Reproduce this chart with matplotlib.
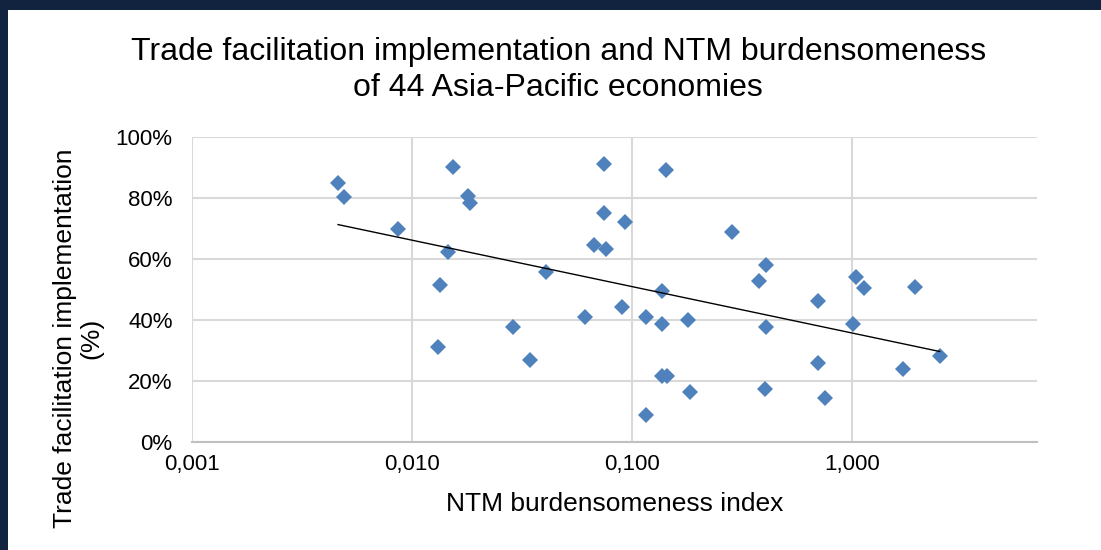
import numpy as np
import matplotlib
matplotlib.use("Agg")
import matplotlib.pyplot as plt
from matplotlib.patches import Rectangle
from matplotlib.ticker import FixedLocator, NullLocator, FuncFormatter

plt.rcParams['font.family'] = ['Liberation Sans', 'DejaVu Sans']

# NTM burdensomeness index (x) and trade facilitation implementation in % (y)
ntm_index = [0.00461, 0.00489, 0.00867, 0.01535, 0.01795, 0.01841, 0.01452,
             0.0134, 0.0131, 0.0289, 0.0343, 0.0408, 0.0745, 0.1429, 0.0745,
             0.0927, 0.2857, 0.0668, 0.0761, 0.4046, 0.3775, 1.036, 1.127,
             1.928, 0.1361, 0.7016, 0.0902, 0.0610, 0.1153, 0.1361, 0.1787,
             0.4046, 1.011, 2.50, 0.7016, 1.711, 0.1361, 0.1436, 0.1841,
             0.402, 0.755, 0.1153]
tf_impl = [84.8, 80.4, 69.8, 90.1, 80.6, 78.2, 62.3, 51.5, 31.1, 37.6, 26.9,
           55.8, 91.2, 89.1, 75.2, 72.0, 68.7, 64.5, 63.3, 58.1, 52.6, 53.9,
           50.5, 50.7, 49.5, 46.2, 44.1, 40.9, 40.9, 38.7, 39.9, 37.6, 38.7,
           28.0, 25.9, 23.8, 21.7, 21.7, 16.2, 17.4, 14.2, 8.9]

x_ticks = [0.001, 0.01, 0.1, 1]
x_tick_labels = ["0,001", "0,010", "0,100", "1,000"]
y_ticks = [0, 20, 40, 60, 80, 100]

x = np.array(ntm_index)
y = np.array(tf_impl)

# logarithmic trendline, like excel
a, b = np.polyfit(np.log(x), y, 1)
xt = np.array([x.min(), x.max()])
yt = a * np.log(xt) + b

fig = plt.figure(figsize=(11.01, 5.5), dpi=100)
fig.patch.set_facecolor('#12233F')
fig.add_artist(Rectangle((8 / 1101, 0), 1, 1 - 10 / 550, transform=fig.transFigure,
                         facecolor='white', edgecolor='none', zorder=0))

ax = fig.add_axes([0.1744, 0.1969, 0.7672, 0.554])
ax.set_facecolor('white')
ax.set_xscale('log')
ax.set_xlim(0.001, 6.9)
ax.set_ylim(0, 100)

ax.plot(x, y, linestyle='none', marker='D', markersize=8,
        color='#4F81BD', markeredgewidth=0, zorder=3)
ax.plot(xt, yt, color='black', lw=1.0, zorder=4)

ax.xaxis.set_major_locator(FixedLocator(x_ticks))
ax.xaxis.set_minor_locator(NullLocator())
ax.set_xticklabels(x_tick_labels)
ax.set_yticks(y_ticks)
ax.yaxis.set_major_formatter(FuncFormatter(lambda v, p: f"{v:.0f}%"))
ax.tick_params(axis='both', length=0, labelsize=16, colors='black')
ax.tick_params(axis='y', pad=14)
ax.tick_params(axis='x', pad=9)

ax.grid(True, color='#D9D9D9', lw=1.5)
ax.set_axisbelow(True)
for s in ['top', 'right', 'left']:
    ax.spines[s].set_visible(False)
ax.spines['bottom'].set_color('#BFBFBF')
ax.spines['bottom'].set_linewidth(1.5)

ax.set_xlabel("NTM burdensomeness index", fontsize=19, labelpad=12)
fig.text(0.071, 1 - 338 / 550, "Trade facilitation implementation\n(%)",
         rotation=90, fontsize=19, ha='center', va='center', multialignment='center',
         linespacing=1.15)

fig.text(0.507, 1 - 70 / 550,
         "Trade facilitation implementation and NTM burdensomeness\nof 44 Asia-Pacific economies",
         fontsize=23, ha='center', va='center', linespacing=1.3)

fig.savefig("out.png", dpi=100, facecolor=fig.get_facecolor())
